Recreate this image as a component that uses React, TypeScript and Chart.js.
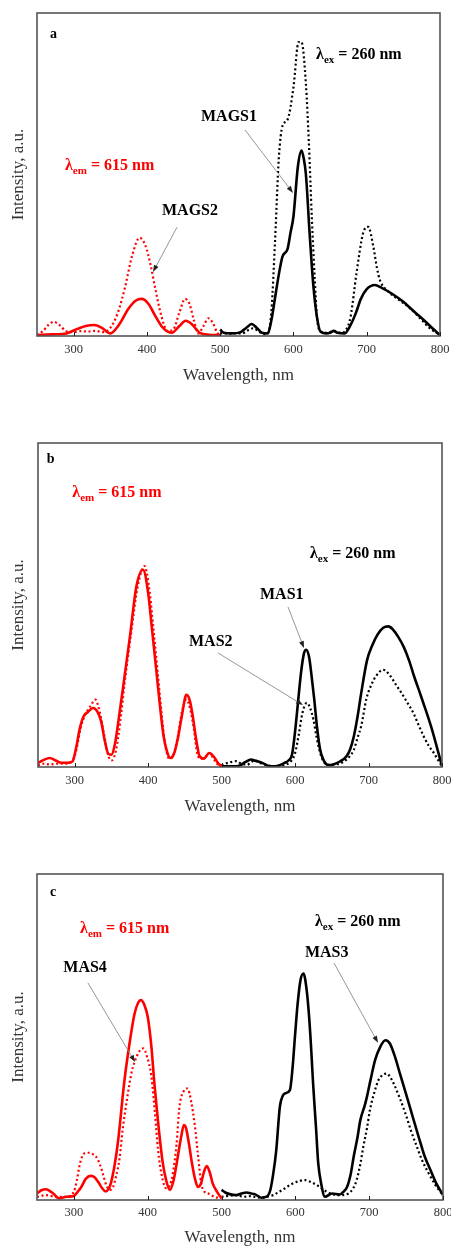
import React, { useEffect, useRef } from 'react';
import { Chart, registerables } from 'chart.js';

Chart.register(...registerables);

type Pt = [number, number];

const X_MIN = 250;
const X_MAX = 800;
const Y_MIN = 0;
const Y_MAX = 100;
const X_TICKS = [300, 400, 500, 600, 700, 800];
const X_TITLE = 'Wavelength, nm';
const Y_TITLE = 'Intensity, a.u.';

// ---------- Panel a ----------
const A_EXC_SOLID: Pt[] = [[250,0.3],[270,0.5],[290,0.8],[305,2.2],[318,3.2],[328,3.4],[338,2.6],[350,0.8],[362,3.5],[375,8.5],[385,11],[393,11.5],[402,10],[412,6],[422,2.5],[434,1],[444,3],[453,4.7],[462,3.5],[472,1],[485,0.4],[500,0.3]];
const A_EXC_DOT: Pt[] = [[250,0.3],[258,1.5],[266,3.5],[273,4.4],[280,3.5],[290,1.5],[300,1.2],[310,1.5],[320,1.4],[330,1.6],[340,1.2],[350,2.5],[360,7],[370,15],[380,25],[390,30.4],[398,28],[405,22],[412,14],[420,6],[428,1.5],[436,2],[444,7],[452,11.5],[458,10],[464,5],[470,0.8],[477,3],[484,5.5],[490,4],[496,1],[500,0.3]];
const A_EM_SOLID: Pt[] = [[500,2],[505,1],[515,0.8],[528,1.2],[537,2.8],[543,3.7],[550,2.5],[557,1],[565,0.8],[570,5],[575,12],[580,19],[585,24.6],[592,27],[596,32],[600,37],[606,52.4],[611,57.4],[614,55],[617,50],[622,32],[627,16],[632,6],[637,1.3],[645,0.8],[650,1],[655,1.6],[660,1],[670,0.8],[677,3],[685,7],[692,11.5],[700,14.5],[711,15.8],[720,15],[735,13],[750,10.6],[765,7.5],[780,4.5],[790,2.3],[800,0.3]];
const A_EM_DOT: Pt[] = [[500,0.8],[510,0.8],[520,0.8],[530,0.8],[538,1.8],[545,2.4],[552,1.5],[560,0.5],[565,0.8],[570,8],[575,30],[580,55],[585,65],[592,67],[600,77],[607,91],[611,91],[617,78],[621,60],[625,37],[629,18],[632,6],[637,1.5],[645,1],[655,1.5],[665,1],[672,2],[678,6],[686,19.4],[695,31.8],[702,33.8],[709,27.7],[714,21],[718,17.3],[730,13.7],[745,11],[759,8.6],[775,5],[786,2.4],[800,0.3]];

// ---------- Panel b ----------
const B_EXC_SOLID: Pt[] = [[250,1.2],[258,2.2],[266,2.8],[274,2],[282,1.3],[290,1.3],[297,1.7],[302,6],[307,12],[312,15.6],[318,17],[325,18.2],[331,17],[336,14],[341,8],[346,4],[350,3.8],[355,7.4],[360,15],[366,24.9],[375,40],[384,55.8],[393,60.9],[400,53.7],[405,43],[411,30],[416,19],[421,9.5],[426,4.5],[430,2.8],[435,4],[440,8.4],[446,16],[452,22.3],[456,21],[460,16.7],[465,9],[470,3.3],[476,2.6],[483,4.3],[490,3],[495,1.2],[500,0.2]];
const B_EXC_DOT: Pt[] = [[250,0.5],[258,1],[266,0.8],[275,1],[285,1],[295,1.5],[302,5],[308,12],[314,16],[322,19],[328,20.8],[334,17],[340,10],[345,4],[350,2],[356,5],[362,14],[368,26],[376,40],[386,56],[395,62],[402,54],[407,43],[413,29],[418,17],[423,7],[429,2.5],[434,3.5],[440,9],[446,17],[452,20.8],[457,18],[462,12],[467,4],[472,2.5],[477,3],[483,4.3],[488,3],[493,1.2],[500,0.2]];
const B_EM_SOLID: Pt[] = [[500,0.2],[515,0.2],[525,0.5],[532,1.5],[540,2.3],[546,1.9],[550,1.7],[556,1.2],[562,0.5],[570,0.2],[578,0.5],[585,1.2],[591,2],[596,4],[600,11],[604,20],[608,29],[612,35],[615,36.2],[619,34],[622,29],[626,21],[630,12],[634,5.5],[638,2.5],[645,0.6],[652,0.8],[661,1.7],[670,3.3],[675,5.5],[680,9.5],[685,15.5],[690,22.8],[698,33],[705,37.5],[712,40.8],[720,43],[727,43.4],[733,42.5],[740,40.3],[748,37],[755,33],[762,28],[770,22.8],[778,17.5],[785,12.6],[792,7],[800,0.2]];
const B_EM_DOT: Pt[] = [[500,0.5],[505,1],[512,1.5],[520,1.8],[527,1],[535,0.7],[540,1.5],[546,2],[552,1.2],[560,0.7],[570,0.2],[580,0.3],[590,1],[595,2],[600,4.3],[605,10],[610,16.7],[616,19.8],[620,18.5],[625,14.6],[629,9.5],[633,5.3],[638,2],[645,0.7],[660,1],[670,2.3],[675,3.5],[680,5.3],[685,9],[690,12.6],[697,21],[704,25.5],[710,28],[720,30],[730,28],[737,25.5],[745,22.8],[753,19.8],[761,16.7],[768,13],[775,9.5],[782,6.5],[789,4.3],[795,2],[800,0.2]];

// ---------- Panel c ----------
const C_EXC_SOLID: Pt[] = [[250,2],[256,3],[262,3.3],[267,2.8],[272,2],[280,0.5],[290,1],[300,1.2],[305,2.5],[310,4],[316,6.5],[323,7.4],[328,7],[333,5.5],[338,3.7],[343,2.6],[347,3.4],[350,5.1],[355,10.5],[360,18.4],[368,35.8],[376,49],[382,57],[387,60.5],[391,61.3],[396,59.5],[400,56.2],[405,47],[409,35.8],[414,24],[420,12],[425,6],[430,3.1],[435,6],[440,12.3],[445,19],[449,23],[452,22],[456,17],[460,11.2],[464,6.5],[468,4],[472,5],[476,8.5],[480,10.4],[484,8.5],[488,5.1],[494,2.5],[500,0.5]];
const C_EXC_DOT: Pt[] = [[250,1],[262,1.5],[275,1],[290,1],[300,2.6],[304,6],[308,11],[314,14.3],[320,14.5],[326,14],[330,13.3],[335,11],[339,8.2],[344,4.5],[348,3.1],[353,4],[357,7.2],[362,13],[366,21.5],[372,31],[378,39],[385,44],[390,46],[394,46.5],[399,44],[405,37.8],[410,26],[414,15.3],[419,7.5],[425,3.6],[430,4.5],[434,8.2],[439,17],[443,28.6],[449,33.5],[454,34.2],[459,30],[463.5,23.5],[468,14],[472.5,5.1],[477,2.5],[482,2],[490,1],[500,0.5]];
const C_EM_SOLID: Pt[] = [[500,3.1],[505,2.3],[511,1.8],[520,1.5],[527,2],[534,2.3],[540,2],[545,1.8],[554,0.7],[561,1],[566,3],[570,8],[574,15],[579,28.6],[583,32],[586,32.7],[592.6,33.7],[596,40],[599.4,50],[603,60],[607,67.5],[611,69.5],[615,65],[618,58],[621,48],[624,35.8],[628,22],[631,11.2],[635,5],[640,1],[650,2],[660,1.7],[665,2.5],[670,4],[675,8],[679,13.3],[684,19],[688,24.5],[694,29],[697,31.7],[702,37],[708,42.9],[715,47],[722,49],[728,48],[735,43.9],[742,38.5],[751,31.7],[759,25.5],[767,19.4],[775,13.5],[783,9.2],[790,5.5],[800,1.5]];
const C_EM_DOT: Pt[] = [[500,1],[510,1.3],[520,1.5],[530,1],[540,1.2],[548,0.8],[555,0.7],[562,1],[570,1.5],[578,2.5],[586,3.6],[592,4.5],[597,5.1],[605,5.8],[613,6.1],[621,5.5],[629,4.6],[636,3.5],[642,2.6],[650,1.8],[660,1.5],[672,2],[678,3.5],[683,6.1],[688,11],[692,16.3],[697,22],[701,27.6],[707,33],[712.6,36.8],[718,38.3],[724,38.8],[729,37.5],[733,35.8],[741,31.5],[749,26.6],[757,21],[764.7,16.3],[772,12],[780.5,8.2],[790,4.5],[800,1.5]];

// ---------- Text ----------
const LAMBDA_EX = ['λ', 'ex', ' = 260 nm'];
const LAMBDA_EM = ['λ', 'em', ' = 615 nm'];

const RED = '#ff0000';
const BLACK = '#000000';
const SERIF = "'Liberation Serif', 'Times New Roman', 'DejaVu Serif', serif";
const W = 451;
const H = 420;

interface SeriesCfg { data: Pt[]; color: string; dotted: boolean; }
interface LabelCfg { parts: string[]; x: number; y: number; color: string; size: number; }
interface ArrowCfg { from: Pt; to: Pt; }
interface PanelCfg {
  top: number; plotTop: number; plotBottom: number; plotLeft: number; plotRight: number;
  tickGap: number; titleGap: number;
  series: SeriesCfg[]; labels: LabelCfg[]; arrows: ArrowCfg[];
}

const PANELS: PanelCfg[] = [
  {
    top: 0, plotTop: 13, plotBottom: 336, plotLeft: 37, plotRight: 440, tickGap: 14, titleGap: 40,
    series: [
      { data: A_EXC_DOT, color: RED, dotted: true },
      { data: A_EXC_SOLID, color: RED, dotted: false },
      { data: A_EM_DOT, color: BLACK, dotted: true },
      { data: A_EM_SOLID, color: BLACK, dotted: false },
    ],
    labels: [
      { parts: ['a'], x: 267.7, y: 93.5, color: BLACK, size: 14 },
      { parts: LAMBDA_EX, x: 630.8, y: 87, color: BLACK, size: 16 },
      { parts: LAMBDA_EM, x: 288.2, y: 52.6, color: RED, size: 16 },
      { parts: ['MAGS1'], x: 473.8, y: 67.8, color: BLACK, size: 16 },
      { parts: ['MAGS2'], x: 420.6, y: 38.7, color: BLACK, size: 16 },
    ],
    arrows: [
      { from: [533.9, 63.8], to: [599.4, 44.3] },
      { from: [441.1, 33.7], to: [408.3, 19.8] },
    ],
  },
  {
    top: 420, plotTop: 443, plotBottom: 767, plotLeft: 38, plotRight: 442, tickGap: 14, titleGap: 40,
    series: [
      { data: B_EXC_DOT, color: RED, dotted: true },
      { data: B_EXC_SOLID, color: RED, dotted: false },
      { data: B_EM_DOT, color: BLACK, dotted: true },
      { data: B_EM_SOLID, color: BLACK, dotted: false },
    ],
    labels: [
      { parts: ['b'], x: 261.8, y: 95, color: BLACK, size: 14 },
      { parts: LAMBDA_EM, x: 296.7, y: 84.6, color: RED, size: 16 },
      { parts: LAMBDA_EX, x: 620.3, y: 65.7, color: BLACK, size: 16 },
      { parts: ['MAS1'], x: 552.2, y: 53.1, color: BLACK, size: 16 },
      { parts: ['MAS2'], x: 455.6, y: 38.6, color: BLACK, size: 16 },
    ],
    arrows: [
      { from: [590.4, 49.4], to: [612.1, 36.7] },
      { from: [495, 35.2], to: [610.8, 19.1] },
    ],
  },
  {
    top: 830, plotTop: 874, plotBottom: 1200, plotLeft: 37, plotRight: 443, tickGap: 13, titleGap: 38,
    series: [
      { data: C_EXC_DOT, color: RED, dotted: true },
      { data: C_EXC_SOLID, color: RED, dotted: false },
      { data: C_EM_DOT, color: BLACK, dotted: true },
      { data: C_EM_SOLID, color: BLACK, dotted: false },
    ],
    labels: [
      { parts: ['c'], x: 267.6, y: 94.5, color: BLACK, size: 14 },
      { parts: LAMBDA_EM, x: 308.3, y: 83.1, color: RED, size: 16 },
      { parts: LAMBDA_EX, x: 626.6, y: 85.3, color: BLACK, size: 16 },
      { parts: ['MAS3'], x: 613, y: 75.8, color: BLACK, size: 16 },
      { parts: ['MAS4'], x: 285.6, y: 71.2, color: BLACK, size: 16 },
    ],
    arrows: [
      { from: [652.3, 72.7], to: [712, 48.2] },
      { from: [319, 66.6], to: [382.8, 42.3] },
    ],
  },
];

const TICK_FONT = 12.5;
const TITLE_FONT = 17;

function makeDecorPlugin(cfg: PanelCfg) {
  return {
    id: 'decor',
    afterDraw(chart: any) {
      const { ctx, chartArea, scales } = chart;
      const xs = scales.x;
      const ys = scales.y;
      ctx.save();
      // frame
      ctx.strokeStyle = '#555';
      ctx.lineWidth = 1.6;
      ctx.strokeRect(chartArea.left, chartArea.top, chartArea.right - chartArea.left, chartArea.bottom - chartArea.top);
      // inward ticks
      ctx.strokeStyle = '#222';
      ctx.lineWidth = 1;
      X_TICKS.forEach((v) => {
        const px = Math.round(xs.getPixelForValue(v)) + 0.5;
        ctx.beginPath();
        ctx.moveTo(px, chartArea.bottom);
        ctx.lineTo(px, chartArea.bottom - 4);
        ctx.stroke();
      });
      // arrows
      cfg.arrows.forEach((a) => {
        const x1 = xs.getPixelForValue(a.from[0]);
        const y1 = ys.getPixelForValue(a.from[1]);
        const x2 = xs.getPixelForValue(a.to[0]);
        const y2 = ys.getPixelForValue(a.to[1]);
        const ang = Math.atan2(y2 - y1, x2 - x1);
        ctx.strokeStyle = '#8a8a8a';
        ctx.lineWidth = 0.9;
        ctx.beginPath();
        ctx.moveTo(x1, y1);
        ctx.lineTo(x2 - Math.cos(ang) * 4, y2 - Math.sin(ang) * 4);
        ctx.stroke();
        ctx.fillStyle = '#222';
        ctx.beginPath();
        ctx.moveTo(x2, y2);
        ctx.lineTo(x2 - Math.cos(ang) * 7 + Math.sin(ang) * 2.5, y2 - Math.sin(ang) * 7 - Math.cos(ang) * 2.5);
        ctx.lineTo(x2 - Math.cos(ang) * 7 - Math.sin(ang) * 2.5, y2 - Math.sin(ang) * 7 + Math.cos(ang) * 2.5);
        ctx.closePath();
        ctx.fill();
      });
      // labels
      ctx.textBaseline = 'middle';
      ctx.textAlign = 'left';
      cfg.labels.forEach((l) => {
        let x = xs.getPixelForValue(l.x);
        const y = ys.getPixelForValue(l.y);
        ctx.fillStyle = l.color;
        l.parts.forEach((p, i) => {
          const isSub = l.parts.length === 3 && i === 1;
          const size = isSub ? Math.round(l.size * 0.68) : l.size;
          ctx.font = `bold ${size}px ${SERIF}`;
          ctx.fillText(p, x, isSub ? y + 5 : y);
          x += ctx.measureText(p).width;
        });
      });
      ctx.restore();
    },
  };
}

function Panel({ cfg }: { cfg: PanelCfg }) {
  const ref = useRef<HTMLCanvasElement | null>(null);
  useEffect(() => {
    if (!ref.current) return;
    const xAxisH = cfg.top + H - cfg.plotBottom;
    const tickLH = TICK_FONT * 1.2;
    const titleLH = TITLE_FONT * 1.2;
    const chart = new Chart(ref.current, {
      type: 'line',
      data: {
        datasets: cfg.series.map((s) => ({
          data: s.data.map(([x, y]) => ({ x, y })),
          borderColor: s.color,
          backgroundColor: s.color,
          borderWidth: s.dotted ? 2.2 : 2.6,
          borderDash: s.dotted ? [2, 2.6] : [],
          pointRadius: 0,
          cubicInterpolationMode: 'monotone' as const,
          fill: false,
        })),
      },
      options: {
        responsive: false,
        animation: false,
        events: [],
        layout: {
          padding: { top: cfg.plotTop - cfg.top, right: W - cfg.plotRight, left: 0, bottom: 0 },
        },
        plugins: { legend: { display: false }, tooltip: { enabled: false } },
        scales: {
          x: {
            type: 'linear',
            min: X_MIN,
            max: X_MAX,
            afterBuildTicks: (axis: any) => { axis.ticks = X_TICKS.map((v) => ({ value: v })); },
            afterFit: (axis: any) => {
              axis.height = xAxisH;
              axis.paddingLeft = 0;
              axis.paddingRight = 0;
            },
            grid: { display: false, drawTicks: false },
            border: { display: false },
            ticks: {
              padding: cfg.tickGap - tickLH / 2,
              color: '#333',
              font: { family: SERIF, size: TICK_FONT },
              maxRotation: 0,
              autoSkip: false,
            },
            title: {
              display: true,
              text: X_TITLE,
              color: '#333',
              font: { family: SERIF, size: TITLE_FONT },
              padding: { top: 0, bottom: Math.max(0, xAxisH - cfg.titleGap - titleLH / 2) },
            },
          },
          y: {
            type: 'linear',
            min: Y_MIN,
            max: Y_MAX,
            afterFit: (axis: any) => {
              axis.width = cfg.plotLeft;
              axis.paddingTop = 0;
              axis.paddingBottom = 0;
            },
            grid: { display: false, drawTicks: false },
            border: { display: false },
            ticks: { display: false },
            title: {
              display: true,
              text: Y_TITLE,
              color: '#333',
              font: { family: SERIF, size: TITLE_FONT },
              padding: { top: 8, bottom: 0 },
            },
          },
        },
      },
      plugins: [makeDecorPlugin(cfg)],
    } as any);
    return () => chart.destroy();
  }, [cfg]);
  return (
    <div style={{ position: 'absolute', left: 0, top: cfg.top, width: W, height: H }}>
      <canvas ref={ref} width={W} height={H} style={{ width: W, height: H, display: 'block' }} />
    </div>
  );
}

export default function App() {
  return (
    <div style={{ position: 'absolute', left: 0, top: 0, width: W, height: 1247, overflow: 'hidden', background: '#fff' }}>
      {PANELS.map((p, i) => <Panel key={i} cfg={p} />)}
    </div>
  );
}
